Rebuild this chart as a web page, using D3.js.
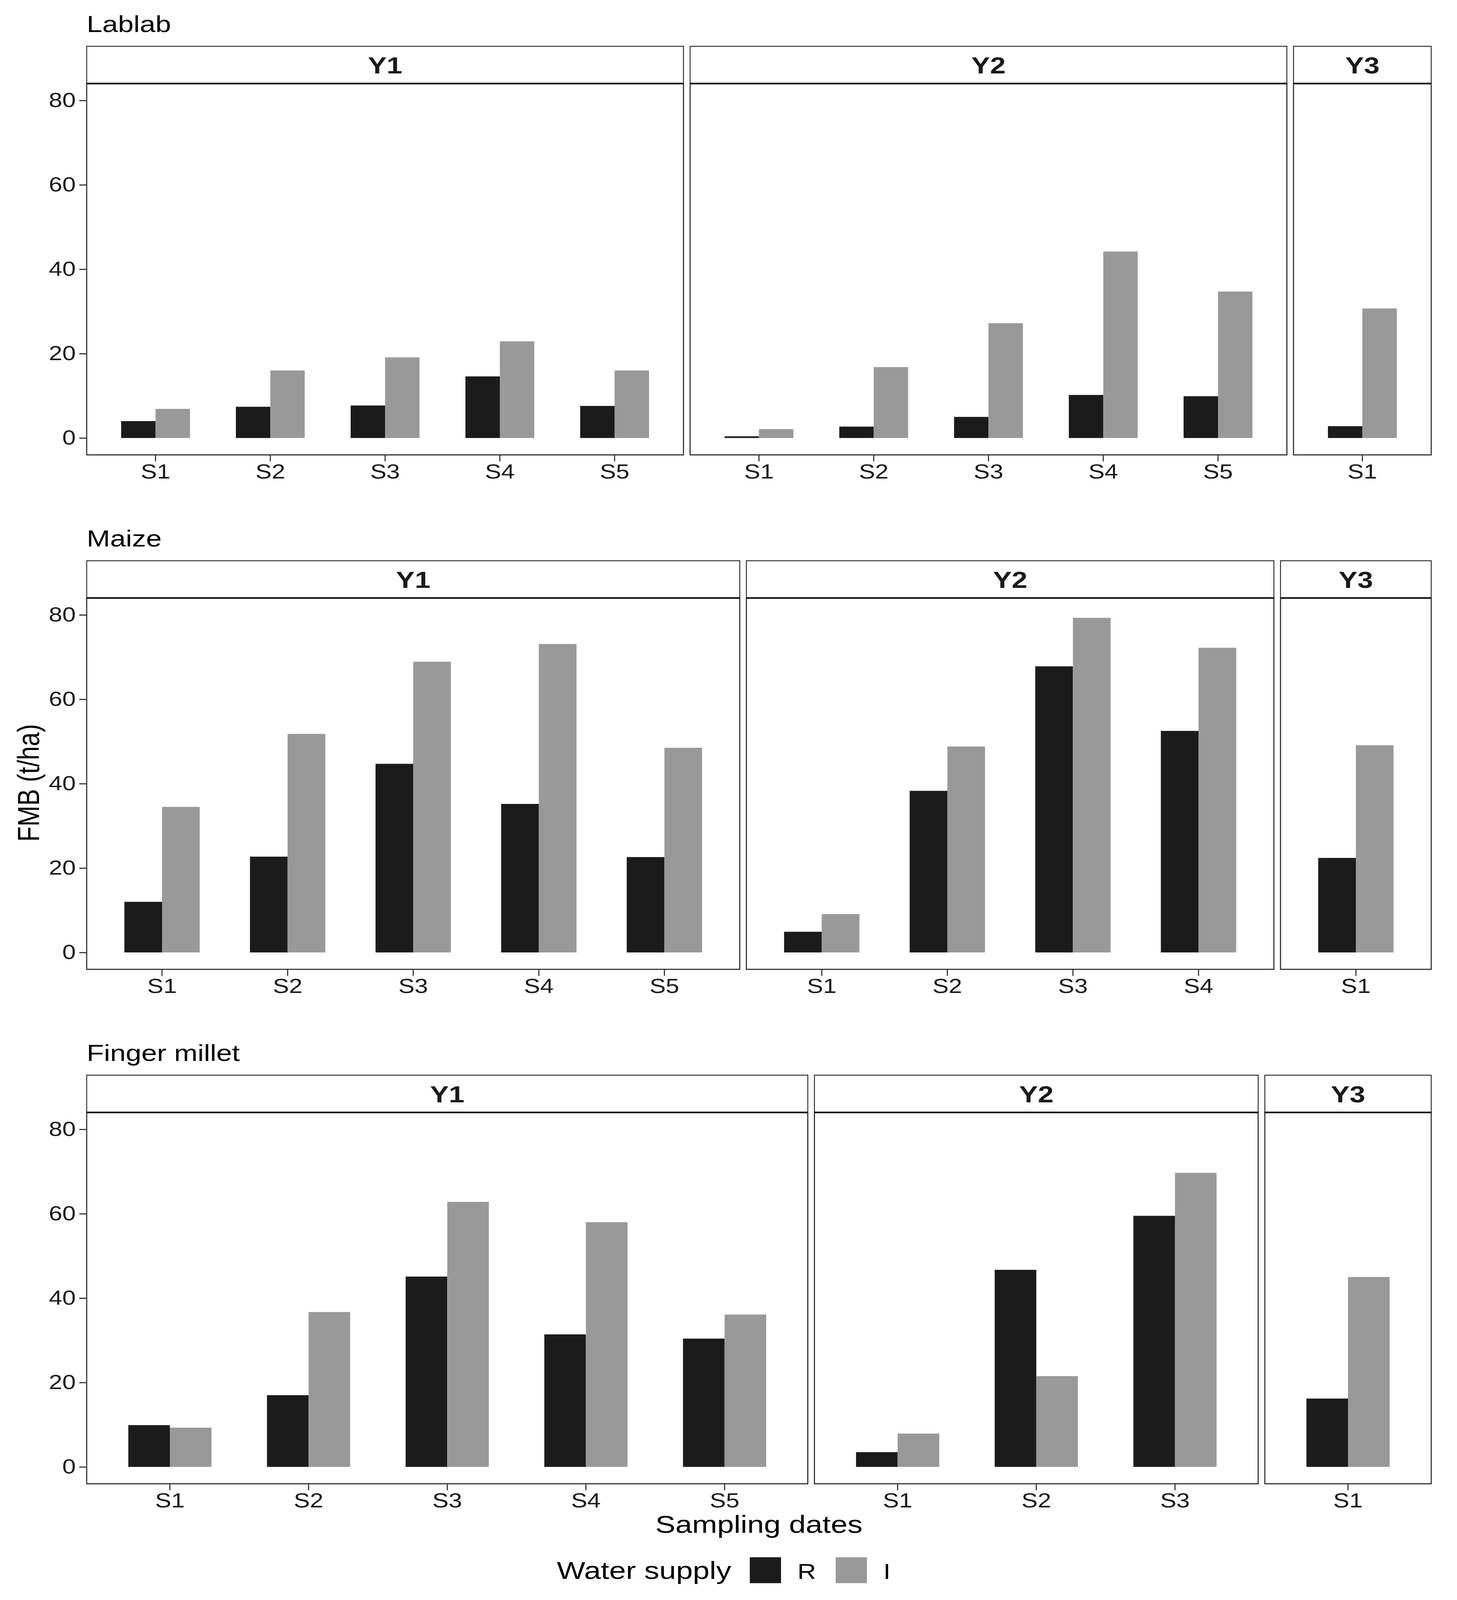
<!DOCTYPE html>
<html>
<head>
<meta charset="utf-8">
<script src="https://cdn.jsdelivr.net/npm/d3@7"></script>
<style>
  html, body { margin: 0; padding: 0; background: #fff; overflow: hidden; }
  svg { display: block; font-family: "Liberation Sans", Arial, Helvetica, sans-serif; }
</style>
</head>
<body>
<div id="chart"></div>
<script>
// data (FMB, t/ha)
const crops = ["Lablab", "Maize", "Finger millet"];
const years = ["Y1", "Y2", "Y3"];
const dates = ["S1", "S2", "S3", "S4", "S5"];
const waterSupply = ["R", "I"];
const yTicks = [0, 20, 40, 60, 80];
const yLimits = [-4, 84];

// one array per year: [Y1, Y2, Y3]
const lablabR = [[4.0, 7.4, 7.7, 14.6, 7.6], [0.4, 2.7, 5.0, 10.2, 9.9], [2.8]];
const lablabI = [[6.9, 16.0, 19.1, 22.9, 16.0], [2.1, 16.8, 27.2, 44.2, 34.7], [30.7]];
const maizeR = [[12.0, 22.7, 44.7, 35.2, 22.6], [4.9, 38.3, 67.8, 52.5], [22.4]];
const maizeI = [[34.5, 51.8, 68.9, 73.1, 48.5], [9.1, 48.8, 79.3, 72.2], [49.1]];
const milletR = [[9.9, 17.0, 45.1, 31.4, 30.4], [3.5, 46.7, 59.5], [16.2]];
const milletI = [[9.3, 36.7, 62.8, 58.0, 36.1], [7.9, 21.5, 69.7], [45.0]];

const seriesR = [lablabR, maizeR, milletR];
const seriesI = [lablabI, maizeI, milletI];
const colors = { R: "#1b1b1b", I: "#999999" };

// layout is designed on a 3731 x 4942 page and stretched to the actual window
const W0 = 3731, H0 = 4942;
const W = window.innerWidth || W0, H = window.innerHeight || H0;
const sx = W / W0, sy = H / H0, k = sx / sy;
const X = v => v * sx, Y = v => v * sy, F = v => v * sy;

// widen text horizontally so it keeps the page's proportions
function stretch(sel) {
  sel.each(function () {
    const t = d3.select(this);
    const x = +t.attr("x") || 0;
    t.attr("x", x / k);
    t.attr("transform", (t.attr("transform") || "") + ` scale(${k},1)`);
  });
}

const plotLeft = 222, plotRight = 3665, panelGap = 17;
const rowTop = [143, 1732, 3321];
const stripH = 115, panelH = 1147;

const svg = d3.select("#chart")
  .append("svg")
  .attr("width", W)
  .attr("height", H);

svg.append("rect").attr("width", W).attr("height", H).attr("fill", "#fff");

crops.forEach(function (crop, r) {
  const top = rowTop[r];
  const panelTop = top + stripH;
  const panelBottom = panelTop + panelH;

  // crop title
  svg.append("text")
    .attr("transform", `translate(0,${Y(top - 44)})`)
    .attr("x", X(plotLeft))
    .attr("font-size", F(72))
    .attr("fill", "#000")
    .text(crop)
    .call(stretch);

  const y = d3.scaleLinear().domain(yLimits).range([Y(panelBottom), Y(panelTop)]);

  // widths of free-x facets
  const counts = seriesR[r].map(d => d.length);
  const totalUnits = d3.sum(counts, n => n + 0.2);
  const unit = (plotRight - plotLeft - panelGap * (years.length - 1)) / totalUnits;

  let x0 = plotLeft;
  years.forEach(function (year, c) {
    const n = counts[c];
    const w = (n + 0.2) * unit;
    const cats = dates.slice(0, n);
    const rows = cats.map((s, i) => ({ date: s, R: seriesR[r][c][i], I: seriesI[r][c][i] }));

    const x = d3.scaleBand().domain(cats).range([X(x0), X(x0 + w)])
      .paddingInner(0.4).paddingOuter(0.3);
    const xSub = d3.scaleBand().domain(waterSupply).range([0, x.bandwidth()]);

    const g = svg.append("g");

    // bars
    g.selectAll(".grp")
      .data(rows)
      .join("g")
      .attr("transform", d => `translate(${x(d.date)},0)`)
      .selectAll("rect")
      .data(d => waterSupply.map(key => ({ key: key, value: d[key] })))
      .join("rect")
      .attr("x", d => xSub(d.key))
      .attr("width", xSub.bandwidth())
      .attr("y", d => y(d.value))
      .attr("height", d => y(0) - y(d.value))
      .attr("fill", d => colors[d.key]);

    // panel border
    g.append("rect")
      .attr("x", X(x0)).attr("y", Y(panelTop))
      .attr("width", X(w)).attr("height", Y(panelH))
      .attr("fill", "none")
      .attr("stroke", "#333")
      .attr("stroke-width", F(3.5));

    // strip
    g.append("rect")
      .attr("x", X(x0)).attr("y", Y(top))
      .attr("width", X(w)).attr("height", Y(stripH))
      .attr("fill", "#fff")
      .attr("stroke", "#333")
      .attr("stroke-width", F(3));
    g.append("line")
      .attr("x1", X(x0)).attr("x2", X(x0 + w))
      .attr("y1", Y(panelTop)).attr("y2", Y(panelTop))
      .attr("stroke", "#111")
      .attr("stroke-width", F(5));
    g.append("text")
      .attr("transform", `translate(0,${Y(top + stripH / 2 + 26)})`)
      .attr("x", X(x0 + w / 2))
      .attr("text-anchor", "middle")
      .attr("font-size", F(72))
      .attr("font-weight", "bold")
      .attr("fill", "#1a1a1a")
      .text(year)
      .call(stretch);

    // x axis
    const xa = g.append("g")
      .attr("transform", `translate(0,${Y(panelBottom)})`)
      .call(d3.axisBottom(x).tickSize(Y(20)).tickPadding(Y(9)));
    xa.select(".domain").remove();
    xa.selectAll(".tick line").attr("stroke", "#333").attr("stroke-width", F(3.5));
    xa.selectAll(".tick text").attr("font-size", F(62)).attr("fill", "#1a1a1a")
      .attr("font-family", "Liberation Sans, Arial, sans-serif")
      .call(stretch);

    // y axis on first facet only
    if (c === 0) {
      const ya = g.append("g")
        .attr("transform", `translate(${X(x0)},0)`)
        .call(d3.axisLeft(y).tickValues(yTicks).tickSize(X(19)).tickPadding(X(9)));
      ya.select(".domain").remove();
      ya.selectAll(".tick line").attr("stroke", "#333").attr("stroke-width", F(3.5));
      ya.selectAll(".tick text").attr("font-size", F(62)).attr("fill", "#1a1a1a")
        .attr("font-family", "Liberation Sans, Arial, sans-serif")
        .call(stretch);
    }

    x0 += w + panelGap;
  });
});

// axis titles
svg.append("text")
  .attr("transform", `translate(0,${Y(4735)})`)
  .attr("x", X((plotLeft + plotRight) / 2))
  .attr("text-anchor", "middle")
  .attr("font-size", F(77))
  .text("Sampling dates")
  .call(stretch);

svg.append("text")
  .attr("transform", `translate(${X(100)},${Y(2418)}) rotate(-90) scale(1,${k})`)
  .attr("text-anchor", "middle")
  .attr("font-size", F(77))
  .text("FMB (t/ha)");

// legend
const legend = svg.append("g");
legend.append("text")
  .attr("transform", `translate(0,${Y(4877)})`)
  .attr("x", X(1426))
  .attr("font-size", F(77))
  .text("Water supply")
  .call(stretch);

const keyX = d3.scaleOrdinal().domain(waterSupply).range([1920, 2140]);
legend.selectAll(".key")
  .data(waterSupply)
  .join("rect")
  .attr("x", d => X(keyX(d)))
  .attr("y", Y(4810))
  .attr("width", X(80))
  .attr("height", Y(80))
  .attr("fill", d => colors[d]);
legend.selectAll(".lab")
  .data(waterSupply)
  .join("text")
  .attr("transform", `translate(0,${Y(4877)})`)
  .attr("x", d => X(keyX(d) + 122))
  .attr("font-size", F(66))
  .text(d => d)
  .call(stretch);
</script>
</body>
</html>
